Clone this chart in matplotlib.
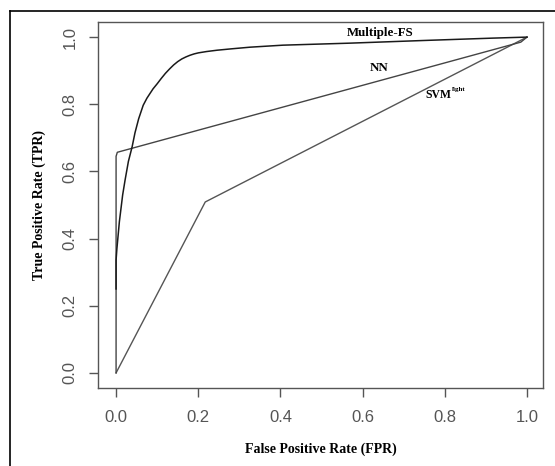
import matplotlib.pyplot as plt
from matplotlib.lines import Line2D

# ROC curves
fs_fpr = [0.0, 0.0, 0.002, 0.005, 0.008, 0.012, 0.016, 0.022, 0.03, 0.039, 0.046,
          0.055, 0.066, 0.075, 0.083, 0.09, 0.10, 0.11, 0.12, 0.13, 0.14, 0.15,
          0.16, 0.17, 0.18, 0.19, 0.20, 0.22, 0.246, 0.28, 0.326, 0.406,
          0.569, 0.75, 0.917, 1.0]
fs_tpr = [0.25, 0.336, 0.37, 0.41, 0.45, 0.49, 0.53, 0.575, 0.63, 0.673, 0.715,
          0.757, 0.797, 0.818, 0.833, 0.846, 0.861, 0.877, 0.892, 0.905, 0.917, 0.927,
          0.935, 0.941, 0.946, 0.950, 0.953, 0.957, 0.961, 0.965, 0.970, 0.976,
          0.982, 0.99, 0.997, 1.0]

nn_fpr = [0.0, 0.0, 0.003, 0.012, 0.985, 1.0]
nn_tpr = [0.0, 0.645, 0.657, 0.66, 0.985, 1.0]

svm_fpr = [0.0, 0.217, 1.0]
svm_tpr = [0.0, 0.509, 1.0]

ticks = [0.0, 0.2, 0.4, 0.6, 0.8, 1.0]
tick_labels = ['0.0', '0.2', '0.4', '0.6', '0.8', '1.0']

serif = ['Liberation Serif', 'DejaVu Serif']
sans = ['Liberation Sans', 'DejaVu Sans']

fig = plt.figure(figsize=(5.55, 4.66), dpi=100)
fig.patch.set_facecolor('white')

# outer frame (only left and top edges are visible in the reference)
fig.add_artist(Line2D([10 / 555, 10 / 555], [1 - 11 / 466, 0], color='black', lw=1.2,
                      transform=fig.transFigure))
fig.add_artist(Line2D([10 / 555, 1], [1 - 11 / 466, 1 - 11 / 466], color='black', lw=1.2,
                      transform=fig.transFigure))

ax = fig.add_axes([98 / 555, 78 / 466, 445 / 555, 366 / 466])
ax.plot(svm_fpr, svm_tpr, color='#555555', lw=1.0)
ax.plot(nn_fpr, nn_tpr, color='#444444', lw=1.0)
ax.plot(fs_fpr, fs_tpr, color='#1a1a1a', lw=1.1)

ax.set_xlim(-0.044, 1.039)
ax.set_ylim(-0.045, 1.045)

ax.set_xticks(ticks)
ax.set_xticklabels(tick_labels, fontfamily=sans, fontsize=12, color='#555555')
ax.set_yticks(ticks)
ax.set_yticklabels(tick_labels, fontfamily=sans, fontsize=12, color='#555555',
                   rotation=90, va='center')
ax.tick_params(axis='x', direction='out', length=6.5, width=1, color='#555555', pad=9)
ax.tick_params(axis='y', direction='out', length=6.5, width=1, color='#555555', pad=8)
for s in ax.spines.values():
    s.set_color('#555555')
    s.set_linewidth(1)

ax.set_xlabel('False Positive Rate (FPR)', fontfamily=serif, fontweight='bold',
              fontsize=10, labelpad=13)
ax.set_ylabel('True Positive Rate (TPR)', fontfamily=serif, fontweight='bold',
              fontsize=10, labelpad=12)

ax.text(0.642, 1.012, 'Multiple-FS', fontfamily=serif, fontweight='bold', fontsize=9.3,
        ha='center', va='center')
ax.text(0.64, 0.908, 'NN', fontfamily=serif, fontweight='bold', fontsize=9.3,
        ha='center', va='center')
ax.text(0.752, 0.827, 'SVM', fontfamily=serif, fontweight='bold', fontsize=8.5,
        ha='left', va='center')
ax.text(0.818, 0.845, 'light', fontfamily=serif, fontweight='bold', fontsize=5,
        ha='left', va='center')

fig.savefig('out.png', dpi=100, facecolor='white')
